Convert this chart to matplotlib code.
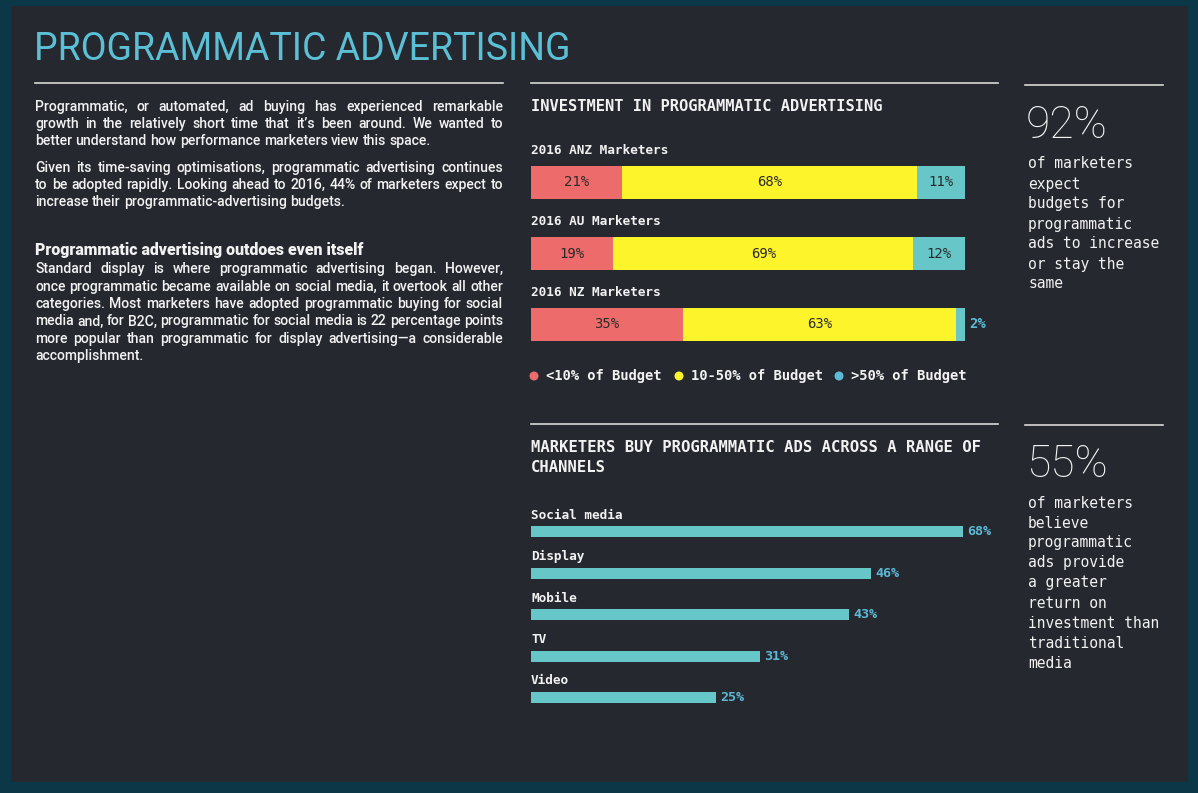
import matplotlib
matplotlib.use("Agg")
import matplotlib.pyplot as plt
from matplotlib.lines import Line2D
from matplotlib.patches import Rectangle, Ellipse

# ---------------- data ----------------
groups = ["2016 ANZ Marketers", "2016 AU Marketers", "2016 NZ Marketers"]
low_share = [21, 19, 35]      # <10% of Budget
mid_share = [68, 69, 63]      # 10-50% of Budget
high_share = [11, 12, 2]      # >50% of Budget
legend_labels = ["<10% of Budget", "10-50% of Budget", ">50% of Budget"]

channels = ["Social media", "Display", "Mobile", "TV", "Video"]
channel_share = [68, 46, 43, 31, 25]

title = "PROGRAMMATIC ADVERTISING"
chart1_title = "INVESTMENT IN PROGRAMMATIC ADVERTISING"
chart2_title = ["MARKETERS BUY PROGRAMMATIC ADS ACROSS A RANGE OF", "CHANNELS"]

stat1_value = "92%"
stat1_lines = ["of marketers", "expect", "budgets for", "programmatic",
               "ads to increase", "or stay the", "same"]
stat2_value = "55%"
stat2_lines = ["of marketers", "believe", "programmatic", "ads provide",
               "a greater", "return on", "investment than", "traditional", "media"]

paragraphs = [
    ["Programmatic, or automated, ad buying has experienced remarkable",
     "growth in the relatively short time that it\u2019s been around. We wanted to",
     "better understand how performance marketers view this space."],
    ["Given its time-saving optimisations, programmatic advertising continues",
     "to be adopted rapidly. Looking ahead to 2016, 44% of marketers expect to",
     "increase their programmatic-advertising budgets."],
    ["Standard display is where programmatic advertising began. However,",
     "once programmatic became available on social media, it overtook all other",
     "categories. Most marketers have adopted programmatic buying for social",
     "media and, for B2C, programmatic for social media is 22 percentage points",
     "more popular than programmatic for display advertising\u2014a considerable",
     "accomplishment."],
]
para_heading = "Programmatic advertising outdoes even itself"

# ---------------- style ----------------
W, H = 1198, 793
OUTER = "#0c3747"
PANEL = "#25282f"
RED = "#ee6b6b"
YEL = "#fdf42b"
CYA = "#67c6c7"
LBL = "#5cbad6"
WHITE = "#f2f2f2"
RULE = "#d8d8d8"
MONO = "DejaVu Sans Mono"
SANS = "Roboto"

fig = plt.figure(figsize=(W / 100, H / 100), dpi=100, facecolor=OUTER)


def fx(x):
    return x / W


def fy(y):
    return 1 - y / H


fig.add_artist(Rectangle((fx(11), fy(782)), fx(1188) - fx(11), fy(6) - fy(782),
                         transform=fig.transFigure, facecolor=PANEL, edgecolor="none",
                         zorder=-10))


def rule(x0, x1, y):
    fig.add_artist(Line2D([fx(x0), fx(x1)], [fy(y), fy(y)], transform=fig.transFigure,
                          color=RULE, lw=1.2))


rule(35, 503, 83)
rule(531, 998, 83)
rule(1025, 1163, 85)
rule(531, 998, 424)
rule(1025, 1163, 425)

# Title
fig.text(fx(34), fy(60), title, fontsize=27, color="#5bbfd5", family=SANS,
         fontweight="normal", va="baseline", ha="left")

# Body text with justification
renderer = fig.canvas.get_renderer()


def text_width(s, **kw):
    t = fig.text(0, 0, s, **kw)
    w = t.get_window_extent(renderer).width
    t.remove()
    return w


def draw_line(line, y, justify, **kw):
    words = line.split(" ")
    x0, x1 = 35, 503
    widths = [text_width(w, **kw) for w in words]
    space = text_width("a a", **kw) - text_width("aa", **kw)
    if justify and len(words) > 1:
        gap = (x1 - x0 - sum(widths)) / (len(words) - 1)
    else:
        gap = space
    x = x0
    for w, wd in zip(words, widths):
        fig.text(fx(x), fy(y), w, va="baseline", ha="left", **kw)
        x += wd + gap


body_kw = dict(fontsize=10.1, color=WHITE, family=SANS, fontweight="medium")
baselines = [[111, 128, 145], [172, 189, 206], [273, 291, 308, 325.5, 343, 360]]
for para, ys in zip(paragraphs, baselines):
    for i, (line, y) in enumerate(zip(para, ys)):
        draw_line(line, y, justify=(i < len(para) - 1), **body_kw)
fig.text(fx(35), fy(255), para_heading, fontsize=11.4, color=WHITE, family=SANS,
         fontweight="heavy", va="baseline", ha="left")

# ---------------- chart 1: stacked bars ----------------
ax1 = fig.add_axes([fx(531), fy(360), fx(965) - fx(531), fy(147) - fy(360)])
ax1.set_xlim(0, 100)
ax1.set_ylim(2.5, -0.5)
ax1.axis("off")
ypos = list(range(len(groups)))
bh = 33 / 71
lefts_mid = [a for a in low_share]
lefts_high = [a + b for a, b in zip(low_share, mid_share)]
ax1.barh(ypos, low_share, height=bh, color=RED, left=0)
ax1.barh(ypos, mid_share, height=bh, color=YEL, left=lefts_mid)
ax1.barh(ypos, high_share, height=bh, color=CYA, left=lefts_high)
for i in ypos:
    ax1.text(0, i - 0.445, groups[i], fontsize=9.2, family=MONO, color=WHITE,
             va="center", ha="left", clip_on=False, fontweight="bold")
    segs = [(0, low_share[i]), (lefts_mid[i], mid_share[i]), (lefts_high[i], high_share[i])]
    for s, v in segs:
        if v >= 5:
            ax1.text(s + v / 2, i, f"{v}%", fontsize=10, family=MONO, color="#2b2b2b",
                     ha="center", va="center")
        else:
            ax1.annotate(f"{v}%", (s + v, i), xytext=(3, 0), textcoords="offset points",
                         fontsize=10, family=MONO, color=LBL, ha="left", va="center",
                         annotation_clip=False, fontweight="bold")

ax1.text(0, -1.07, chart1_title, fontsize=11.1, family=MONO, color=WHITE,
         va="center", ha="left", clip_on=False, fontweight="bold")

# legend
leg_y = 376
for (dx, tx), lab, col in zip([(534, 546), (679, 691), (839, 851)], legend_labels,
                              [RED, YEL, LBL]):
    fig.add_artist(Ellipse((fx(dx), fy(leg_y)), 9 / W, 9 / H, transform=fig.transFigure,
                           facecolor=col, edgecolor="none"))
    fig.text(fx(tx), fy(leg_y), lab, fontsize=9.9, family=MONO, color=WHITE,
             va="center", ha="left", fontweight="bold")

# ---------------- chart 2: channel bars ----------------
px_per_pct = 7.40
ax2_w = 432
ax2 = fig.add_axes([fx(531), fy(718.2), fx(531 + ax2_w) - fx(531), fy(511.3) - fy(718.2)])
xmax = ax2_w / px_per_pct
ax2.set_xlim(0, xmax)
ax2.set_ylim(len(channels) - 0.5, -0.5)
ax2.axis("off")
cpos = list(range(len(channels)))
ax2.barh(cpos, channel_share, height=11 / 41.4, color=CYA)
for i, (c, v) in enumerate(zip(channels, channel_share)):
    ax2.text(0, i - 0.40, c, fontsize=9.2, family=MONO, color=WHITE,
             va="center", ha="left", clip_on=False, fontweight="bold")
    ax2.annotate(f"{v}%", (min(v, xmax), i), xytext=(3, 0), textcoords="offset points",
                 fontsize=9.6, family=MONO, color=LBL, ha="left", va="center",
                 annotation_clip=False, fontweight="bold")

for k, line in enumerate(chart2_title):
    fig.text(fx(531), fy(447 + 21 * k), line, fontsize=11.2, family=MONO, color=WHITE,
             va="center", ha="left", fontweight="bold")

# ---------------- right stats ----------------
def stat(value, lines, y_num, y_first):
    fig.text(fx(1026), fy(y_num), value, fontsize=32, family=SANS, fontweight="light",
             color=WHITE, va="baseline", ha="left")
    for k, l in enumerate(lines):
        fig.text(fx(1028), fy(y_first + 20 * k), l, fontsize=10.5, family=MONO,
                 color=WHITE, va="center", ha="left")


stat(stat1_value, stat1_lines, 138, 164)
stat(stat2_value, stat2_lines, 477, 503)

fig.savefig("out.png", dpi=100, facecolor=OUTER)
